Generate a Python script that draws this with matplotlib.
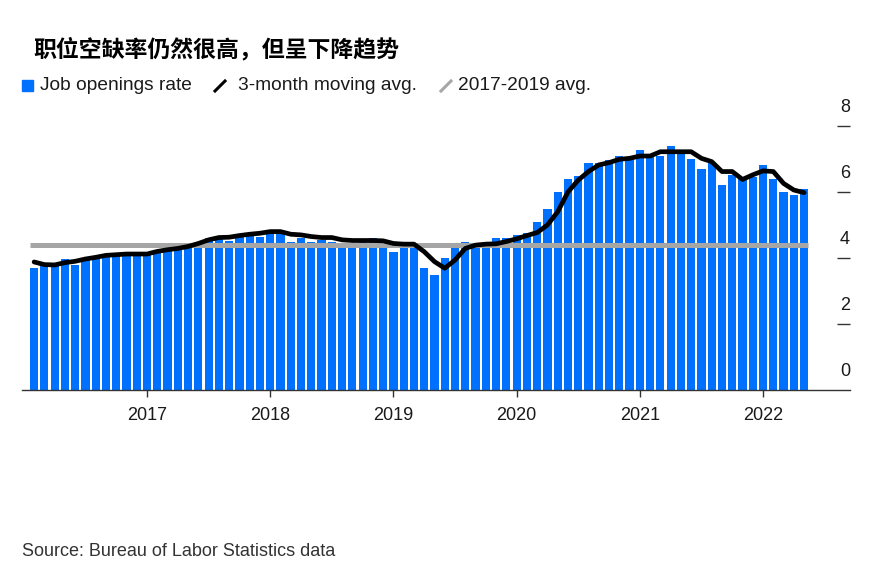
import matplotlib
matplotlib.use("Agg")
import matplotlib.pyplot as plt
from matplotlib.lines import Line2D
from matplotlib.patches import Rectangle

# monthly data, Feb 2016 .. May 2022
rate = [3.69, 3.83, 3.82, 3.97, 3.80, 3.94, 4.00, 4.05, 4.09, 4.13, 4.09,
        4.09, 4.22, 4.20, 4.24, 4.32, 4.46, 4.60, 4.60, 4.52, 4.70, 4.70, 4.65,
        4.77, 4.73, 4.50, 4.60, 4.50, 4.55, 4.50, 4.45, 4.45, 4.50, 4.60, 4.50,
        4.19, 4.50, 4.45, 3.69, 3.50, 3.99, 4.29, 4.49, 4.29, 4.42, 4.60, 4.60,
        4.70, 4.77, 5.10, 5.48, 5.99, 6.38, 6.50, 6.89, 6.89, 6.97, 7.10, 7.02,
        7.27, 7.07, 7.09, 7.39, 7.15, 6.99, 6.69, 6.87, 6.21, 6.53, 6.38, 6.46,
        6.82, 6.38, 6.01, 5.91, 6.09]
moving_avg = [3.88, 3.80, 3.79, 3.86, 3.90, 3.97, 4.02, 4.08, 4.10, 4.12, 4.12,
              4.12, 4.20, 4.25, 4.29, 4.35, 4.44, 4.55, 4.62, 4.63, 4.68, 4.72, 4.75,
              4.80, 4.80, 4.72, 4.70, 4.65, 4.62, 4.62, 4.55, 4.53, 4.53, 4.53, 4.52,
              4.44, 4.42, 4.42, 4.19, 3.89, 3.69, 3.94, 4.29, 4.39, 4.42, 4.43, 4.50,
              4.58, 4.68, 4.77, 5.00, 5.40, 6.00, 6.36, 6.62, 6.82, 6.89, 6.99, 7.02,
              7.09, 7.09, 7.22, 7.22, 7.22, 7.22, 7.02, 6.92, 6.62, 6.62, 6.38, 6.52,
              6.64, 6.62, 6.26, 6.06, 5.98]
avg_2017_2019 = 4.4
years = ["2017", "2018", "2019", "2020", "2021", "2022"]

BLUE = "#0070ff"
GRAY = "#a6a6a6"
TXT = "#1a1a1a"

plt.rcParams['font.family'] = ['Liberation Sans', 'DejaVu Sans']

fig = plt.figure(figsize=(8.84, 5.66), dpi=100)
ax = fig.add_axes([22/884, 176/566, 828/884, 290/566])

x = list(range(len(rate)))
ax.bar(x, rate, width=0.8, color=BLUE, zorder=2)
ax.plot([-0.4, len(rate) - 0.6], [avg_2017_2019] * 2, color=GRAY, lw=3.6,
        solid_capstyle='butt', zorder=3)
ax.plot(x, moving_avg, color="black", lw=3.4, solid_capstyle='round',
        solid_joinstyle='round', zorder=4)

ax.set_xlim(-1.18, 79.47)
ax.set_ylim(0, 290/33)

for s in ['top', 'right', 'left']:
    ax.spines[s].set_visible(False)
ax.spines['bottom'].set_color('#333333')
ax.spines['bottom'].set_linewidth(1)

ax.set_xticks([11 + 12*k for k in range(len(years))])
ax.set_xticklabels(years, fontsize=13, color=TXT)
ax.tick_params(axis='x', direction='out', length=5, width=1, color='#333333', pad=7)

ax.yaxis.tick_right()
ax.set_yticks([2, 4, 6, 8])
ax.tick_params(axis='y', direction='in', length=9.4, width=1, color='#333333',
               labelright=False)
for v in [0, 2, 4, 6, 8]:
    ax.annotate(str(v), xy=((845 - 22)/828, v), xycoords=('axes fraction', 'data'),
                xytext=(0, 7), textcoords='offset points', ha='center', va='bottom',
                fontsize=13, color=TXT)

# title
fig.text(33/884, 1 - 50/566, "职位空缺率仍然很高，但呈下降趋势", fontsize=16.5,
         fontweight='bold', family=['Noto Sans CJK SC', 'DejaVu Sans'],
         va='center', ha='left', color='black')

# legend
ly = 1 - 86/566
fig.patches.append(Rectangle((22/884, ly - 5.5/566), 11/884, 11/566,
                             transform=fig.transFigure, color=BLUE))
fig.text(40/884, ly, "Job openings rate", fontsize=13.8, va='center', color=TXT)
fig.lines.append(Line2D([215/884, 225/884], [ly - 5/566, ly + 5/566],
                        transform=fig.transFigure, color='black', lw=2.2))
fig.text(238/884, ly, "3-month moving avg.", fontsize=13.8, va='center', color=TXT)
fig.lines.append(Line2D([441/884, 451/884], [ly - 5/566, ly + 5/566],
                        transform=fig.transFigure, color=GRAY, lw=2.2))
fig.text(458/884, ly, "2017-2019 avg.", fontsize=13.8, va='center', color=TXT)

fig.text(22/884, 1 - 551/566, "Source: Bureau of Labor Statistics data",
         fontsize=13, va='center', color='#333333')

fig.savefig("out.png", dpi=100)
